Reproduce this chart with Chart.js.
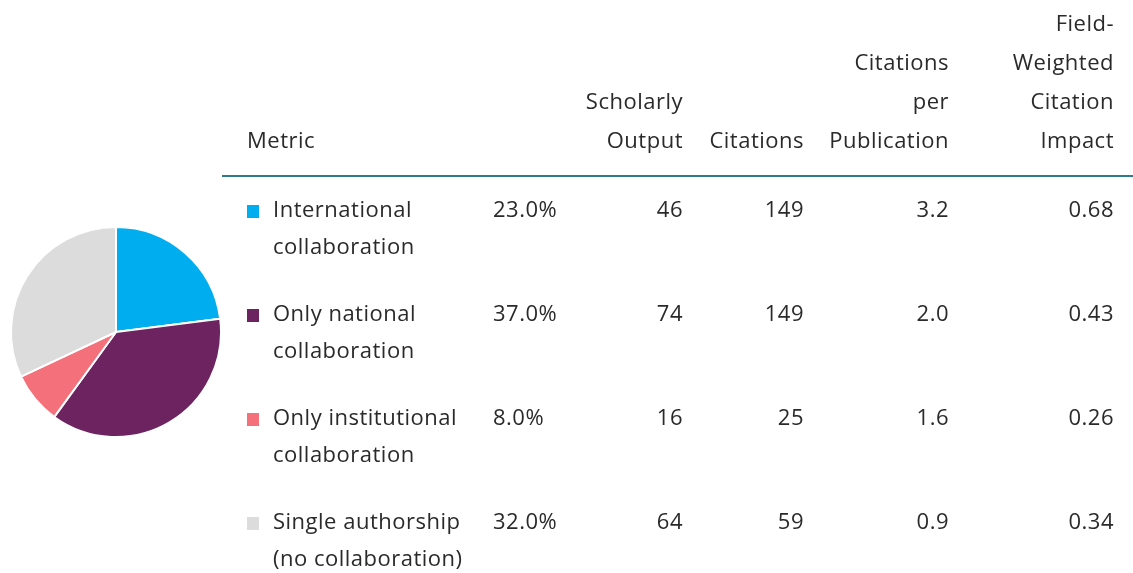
<!DOCTYPE html>
<html>
<head>
<meta charset="utf-8">
<script src="https://cdn.jsdelivr.net/npm/chart.js@4"></script>
<style>
  html, body { margin: 0; padding: 0; background: #fff; }
  body { width: 1133px; height: 573px; position: relative; overflow: hidden;
         font-family: "Open Sans", "Lato", sans-serif; color: #2a2a2a; }
  #pieBox { position: absolute; left: 8px; top: 224px; width: 216px; height: 216px; }
  table { position: absolute; left: 222px; top: 3px; width: 911px; border-collapse: collapse;
          table-layout: fixed; font-size: 22px; letter-spacing: 0.5px; }
  th { font-weight: normal; text-align: right; vertical-align: bottom; line-height: 39px;
       padding: 0 0 16px 0; border-bottom: 2px solid #2a7b8c; white-space: nowrap; }
  td { vertical-align: top; line-height: 37px; padding: 0; height: 104px; text-align: right;
       white-space: nowrap; }
  th.metric { text-align: left; padding-left: 25px; }
  td.metric { text-align: left; padding-left: 25px; }
  td.share { text-align: left; padding-left: 8px; }
  .sw { display: inline-block; width: 12px; height: 13px; margin-right: 14px; vertical-align: -1px; }
  .lab { display: inline-block; vertical-align: top; }
  tbody tr:first-child td { padding-top: 13px; }
</style>
</head>
<body>
<div id="pieBox"><canvas id="pie"></canvas></div>
<table id="tbl">
  <colgroup>
    <col style="width:263px"><col style="width:98px"><col style="width:100px">
    <col style="width:121px"><col style="width:145px"><col style="width:184px">
  </colgroup>
  <thead><tr id="head"></tr></thead>
  <tbody id="rows"></tbody>
</table>
<script>
// 협업 유형별 지표
const categories = ['International<br>collaboration', 'Only national<br>collaboration',
                    'Only institutional<br>collaboration', 'Single authorship<br>(no collaboration)'];
const shares = [23.0, 37.0, 8.0, 32.0];
const scholarlyOutput = [46, 74, 16, 64];
const citations = [149, 149, 25, 59];
const citationsPerPub = ['3.2', '2.0', '1.6', '0.9'];
const fwci = ['0.68', '0.43', '0.26', '0.34'];
const colors = ['#00aeef', '#6c2360', '#f4717c', '#dcdcdc'];
const headers = ['Metric', '', 'Scholarly<br>Output', 'Citations', 'Citations<br>per<br>Publication',
                 'Field-<br>Weighted<br>Citation<br>Impact'];

// 표 헤더
const head = document.getElementById('head');
headers.forEach(function(h, i){
    const th = document.createElement('th');
    th.innerHTML = h;
    if (i === 0) th.className = 'metric';
    if (i === 5) th.style.paddingRight = '19px';
    head.appendChild(th);
});

// 표 본문
const rows = document.getElementById('rows');
categories.forEach(function(c, i){
    const tr = document.createElement('tr');
    tr.innerHTML =
        '<td class="metric"><span class="sw" style="background:' + colors[i] + '"></span>' +
        '<span class="lab">' + c + '</span></td>' +
        '<td class="share">' + shares[i].toFixed(1) + '%</td>' +
        '<td>' + scholarlyOutput[i] + '</td>' +
        '<td>' + citations[i] + '</td>' +
        '<td>' + citationsPerPub[i] + '</td>' +
        '<td style="padding-right:19px">' + fwci[i] + '</td>';
    rows.appendChild(tr);
});

// 파이 차트
const ctx = document.getElementById('pie').getContext('2d');
const pie = new Chart(ctx, {
    type: 'pie',
    data: {
        labels: categories.map(function(c){ return c.replace('<br>', ' '); }),
        datasets: [{
            data: shares,
            backgroundColor: colors,
            borderColor: '#ffffff',
            borderWidth: 2
        }]
    },
    options: {
        responsive: true,
        maintainAspectRatio: true,
        animation: false,
        layout: { padding: 2 },
        plugins: {
            legend: { display: false },
            tooltip: { enabled: false }
        }
    }
});
</script>
</body>
</html>
